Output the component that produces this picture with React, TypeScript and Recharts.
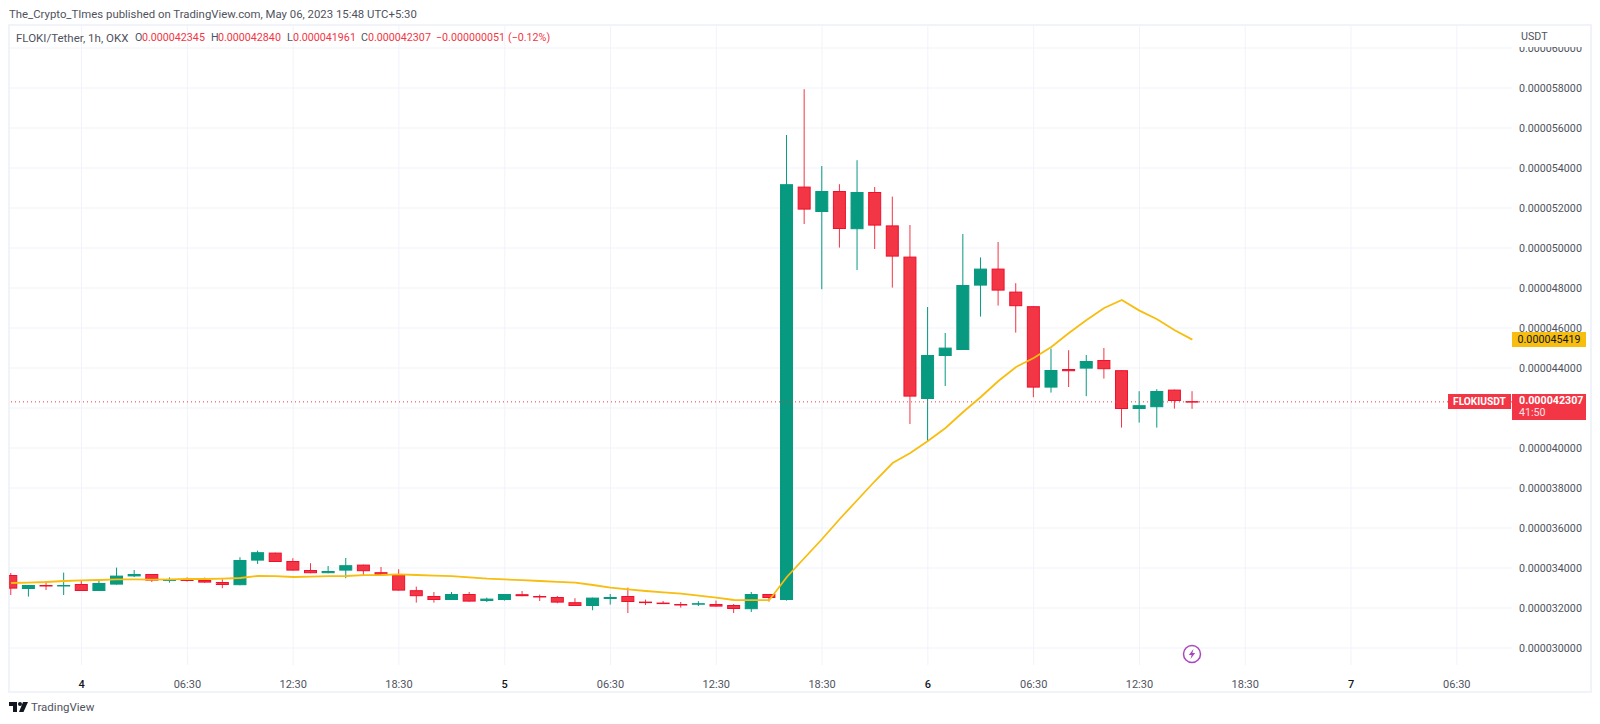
import React from "react";
import {
  Bar,
  CartesianGrid,
  ComposedChart,
  Line,
  ReferenceLine,
  XAxis,
  YAxis,
} from "recharts";

// prices are in millionths of USDT, hour index 0 is the first bar of May 4
const hours = [
  -4, -3, -2, -1, 0, 1, 2, 3, 4, 5, 6, 7, 8, 9, 10, 11, 12, 13, 14, 15, 16, 17, 18, 19, 20, 21, 22,
  23, 24, 25, 26, 27, 28, 29, 30, 31, 32, 33, 34, 35, 36, 37, 38, 39, 40, 41, 42, 43, 44, 45, 46,
  47, 48, 49, 50, 51, 52, 53, 54, 55, 56, 57, 58, 59, 60, 61, 62, 63,
];
const opens = [
  33.65, 32.95, 33.15, 33.12, 33.2, 32.85, 33.17, 33.58, 33.7, 33.35, 33.43, 33.4, 33.3, 33.14,
  34.37, 34.77, 34.35, 33.9, 33.74, 33.87, 34.17, 33.79, 33.65, 32.89, 32.6, 32.4, 32.7, 32.35,
  32.4, 32.69, 32.6, 32.55, 32.29, 32.1, 32.45, 32.6, 32.32, 32.27, 32.2, 32.17, 32.2, 32.15,
  31.94, 32.7, 32.4, 53.07, 51.8, 52.85, 50.94, 52.8, 51.13, 49.57, 42.45, 44.6, 44.9, 48.12,
  48.97, 47.82, 47.09, 43.02, 43.95, 43.97, 44.4, 43.89, 41.95, 42.04, 42.92, 42.345,
];
const highs = [
  33.75, 33.15, 33.35, 33.77, 33.4, 33.4, 34.02, 33.9, 33.7, 33.53, 33.53, 33.52, 33.44, 34.54,
  34.87, 34.77, 34.49, 34.24, 34.1, 34.5, 34.17, 34.05, 33.94, 33.07, 32.8, 32.8, 32.8, 32.52,
  32.7, 32.85, 32.67, 32.6, 32.49, 32.52, 32.7, 33.02, 32.42, 32.35, 32.3, 32.34, 32.37, 32.2,
  32.8, 32.7, 55.65, 57.94, 54.1, 53.19, 54.39, 53.05, 52.57, 51.15, 47.05, 45.75, 50.7, 49.53,
  50.3, 48.24, 47.09, 44.97, 44.89, 44.65, 45.0, 43.89, 42.84, 42.94, 42.92, 42.84,
];
const lows = [
  32.65, 32.57, 32.9, 32.65, 32.85, 32.85, 33.17, 33.55, 33.3, 33.27, 33.32, 33.27, 32.99, 33.14,
  34.2, 34.3, 33.87, 33.74, 33.74, 33.49, 33.65, 33.6, 32.87, 32.27, 32.27, 32.4, 32.32, 32.3,
  32.37, 32.59, 32.35, 32.24, 32.1, 31.89, 32.17, 31.75, 32.15, 32.2, 32.02, 32.1, 32.07, 31.75,
  31.8, 32.32, 32.37, 51.2, 47.94, 50.02, 48.9, 49.95, 48.02, 41.2, 40.3, 43.1, 44.9, 46.57, 47.12,
  45.77, 42.54, 42.77, 43.05, 42.59, 43.47, 41.02, 41.27, 41.02, 41.97, 41.961,
];
const closes = [
  32.97, 33.15, 33.1, 33.15, 32.85, 33.25, 33.62, 33.7, 33.37, 33.43, 33.35, 33.27, 33.15, 34.4,
  34.79, 34.3, 33.87, 33.74, 33.85, 34.14, 33.84, 33.64, 32.87, 32.59, 32.4, 32.7, 32.32, 32.47,
  32.7, 32.59, 32.54, 32.27, 32.1, 32.52, 32.55, 32.3, 32.27, 32.22, 32.17, 32.24, 32.07, 31.95,
  32.7, 32.5, 53.19, 51.92, 52.85, 50.95, 52.8, 51.12, 49.57, 42.57, 44.65, 45.02, 48.15, 48.97,
  47.87, 47.09, 43.02, 43.9, 43.84, 44.35, 43.94, 41.95, 42.14, 42.85, 42.35, 42.307,
];
const movingAvg = [
  33.25, 33.27, 33.3, 33.35, 33.38, 33.4, 33.43, 33.43, 33.42, 33.43, 33.45, 33.45, 33.47, 33.5,
  33.6, 33.59, 33.55, 33.57, 33.59, 33.6, 33.64, 33.65, 33.68, 33.65, 33.62, 33.59, 33.53, 33.47,
  33.43, 33.39, 33.35, 33.31, 33.27, 33.15, 33.02, 32.93, 32.85, 32.78, 32.72, 32.62, 32.52, 32.4,
  32.39, 32.39, 33.55, 34.5, 35.45, 36.45, 37.4, 38.35, 39.25, 39.75, 40.35, 41.0, 41.8, 42.55,
  43.35, 44.05, 44.5, 45.05, 45.75, 46.4, 47.0, 47.4, 46.87, 46.44, 45.89, 45.419,
];
const priceTicks = [30, 32, 34, 36, 38, 40, 42, 44, 46, 48, 50, 52, 54, 56, 58, 60];
const timeTicks = [0, 6, 12, 18, 24, 30, 36, 42, 48, 54, 60, 66, 72, 78];
const timeLabels = [
  "4", "06:30", "12:30", "18:30", "5", "06:30", "12:30", "18:30", "6", "06:30", "12:30", "18:30", "7", "06:30",
];

const lastClose = 42.307;
const UP = "#089981";
const DOWN = "#f23645";
const GRID = "#f0f3fa";
const FONT = "Roboto, sans-serif";

const rows = hours.map((hour, i) => ({
  hour,
  open: opens[i],
  high: highs[i],
  low: lows[i],
  close: closes[i],
  ma: movingAvg[i],
  range: [lows[i], highs[i]],
}));

function Candle(props: any) {
  const { x, y, width, height, payload } = props;
  const top = Math.min(y, y + height);
  const h = Math.abs(height);
  const perUnit = h / (payload.high - payload.low || 1);
  const up = payload.close >= payload.open;
  const bodyTop = top + (payload.high - Math.max(payload.open, payload.close)) * perUnit;
  const bodyH = Math.max(1, Math.abs(payload.close - payload.open) * perUnit);
  const color = up ? UP : DOWN;
  return (
    <g>
      <rect x={x + width / 2 - 0.5} y={top} width={1} height={h} fill={color} />
      <rect
        x={x + 0.5}
        y={bodyTop + 0.5}
        width={width - 1}
        height={Math.max(0.5, bodyH - 1)}
        fill={color}
        stroke={up ? UP : "#f0102c"}
      />
    </g>
  );
}

function TimeTick(props: any) {
  const { x, y, index } = props;
  const label = timeLabels[index];
  const isDay = label.length === 1;
  return (
    <text
      x={x}
      y={y}
      textAnchor="middle"
      dominantBaseline="central"
      fontFamily={FONT}
      fontSize={11}
      fill={isDay ? "#131722" : "#50535e"}
      fontWeight={isDay ? 500 : 400}
    >
      {label}
    </text>
  );
}

const legendParts = [
  { left: 16, text: "FLOKI/Tether, 1h, OKX", color: "#50535e", size: 11.5 },
  { left: 135, text: "O", color: "#50535e", size: 10.7 },
  { left: 142, text: "0.000042345", color: DOWN, size: 10.7 },
  { left: 211, text: "H", color: "#50535e", size: 10.7 },
  { left: 218, text: "0.000042840", color: DOWN, size: 10.7 },
  { left: 287, text: "L", color: "#50535e", size: 10.7 },
  { left: 293, text: "0.000041961", color: DOWN, size: 10.7 },
  { left: 361, text: "C", color: "#50535e", size: 10.7 },
  { left: 368, text: "0.000042307", color: DOWN, size: 10.7 },
  { left: 436, text: "\u22120.000000051", color: DOWN, size: 10.7 },
  { left: 508, text: "(\u22120.12%)", color: DOWN, size: 10.7 },
];

function Label({ left, top, width, height, bg, color, bold, size = 10.7, children, align }: any) {
  return (
    <div
      style={{
        position: "absolute",
        left,
        top,
        width,
        height,
        lineHeight: `${height}px`,
        background: bg,
        color,
        fontFamily: FONT,
        fontSize: size,
        fontWeight: bold ? 700 : 400,
        textAlign: align || "left",
        whiteSpace: "nowrap",
      }}
    >
      {children}
    </div>
  );
}

export default function App() {
  return (
    <div style={{ position: "absolute", left: 0, top: 0, width: 1600, height: 724, background: "#fff", overflow: "hidden" }}>
      <div
        style={{
          position: "absolute",
          left: 8,
          top: 24,
          width: 1580,
          height: 665,
          border: `2px solid ${GRID}`,
        }}
      />
      <div style={{ position: "absolute", left: 0, top: 0 }}>
        <ComposedChart
          width={1600}
          height={724}
          data={rows}
          margin={{ top: 26, right: 10, bottom: 33, left: 9 }}
        >
          <CartesianGrid stroke={GRID} syncWithTicks />
          <XAxis
            dataKey="hour"
            type="number"
            domain={[-4.118, 81.13]}
            ticks={timeTicks}
            allowDataOverflow
            interval={0}
            height={26}
            axisLine={false}
            tickLine={false}
            tickMargin={13}
            tick={<TimeTick />}
          />
          <YAxis
            orientation="right"
            type="number"
            domain={[29.15, 61.1]}
            ticks={priceTicks}
            allowDataOverflow
            interval={0}
            width={78}
            axisLine={false}
            tickLine={false}
            tickSize={0}
            tickMargin={7}
            tick={{ fontSize: 10.7, fontFamily: FONT, fill: "#50535e" }}
            tickFormatter={(v: number) => (v === 42 ? "" : (v / 1e6).toFixed(9))}
          />
          <ReferenceLine y={lastClose} stroke={DOWN} strokeDasharray="1 3" ifOverflow="hidden" />
          <Line
            dataKey="ma"
            type="linear"
            stroke="#f7bd0f"
            strokeWidth={1.8}
            dot={false}
            isAnimationActive={false}
          />
          <Bar dataKey="range" barSize={13} shape={<Candle />} isAnimationActive={false} />
        </ComposedChart>
      </div>

      <Label left={9} top={7} height={14} color="#50535e" size={11.37}>
        The_Crypto_TImes published on TradingView.com, May 06, 2023 15:48 UTC+5:30
      </Label>
      {legendParts.map((p) => (
        <Label key={p.left} left={p.left} top={31} height={14} color={p.color} size={p.size}>
          {p.text}
        </Label>
      ))}

      <Label left={1513} top={27} width={75} height={20} bg="#fff" color="#50535e">
        <span style={{ marginLeft: 8 }}>USDT</span>
      </Label>

      <Label left={1512} top={332} width={74} height={15} bg="#f7bd0f" color="#131722" align="center">
        0.000045419
      </Label>
      <Label left={1448} top={394} width={63} height={15} bg={DOWN} color="#fff" bold align="center" size={10.2}>
        FLOKIUSDT
      </Label>
      <div style={{ position: "absolute", left: 1512, top: 394, width: 74, height: 26, background: DOWN }} />
      <Label left={1519} top={395} height={12} color="#fff" bold>
        0.000042307
      </Label>
      <Label left={1519} top={407} height={12} color="#fde0e3">
        41:50
      </Label>

      <svg style={{ position: "absolute", left: 1182, top: 644 }} width={20} height={20} viewBox="0 0 20 20">
        <circle cx={10} cy={10} r={8.5} fill="#fff" stroke="#ab47bc" strokeWidth={1.5} />
        <path d="M11.5 5 L6.8 11 H9.6 L8.5 15 L13.2 9 H10.4 Z" fill="#ab47bc" />
      </svg>

      <svg style={{ position: "absolute", left: 9, top: 701 }} width={20} height={12} viewBox="0 0 20 12">
        <path d="M0 1 H8 V11 H4 V5 H0 Z" fill="#131722" />
        <circle cx={11} cy={3} r={2} fill="#131722" />
        <path d="M14 1 H19 L14.5 11 H10 Z" fill="#131722" />
      </svg>
      <Label left={31} top={700} height={14} color="#50535e" size={11.5}>
        TradingView
      </Label>
    </div>
  );
}
